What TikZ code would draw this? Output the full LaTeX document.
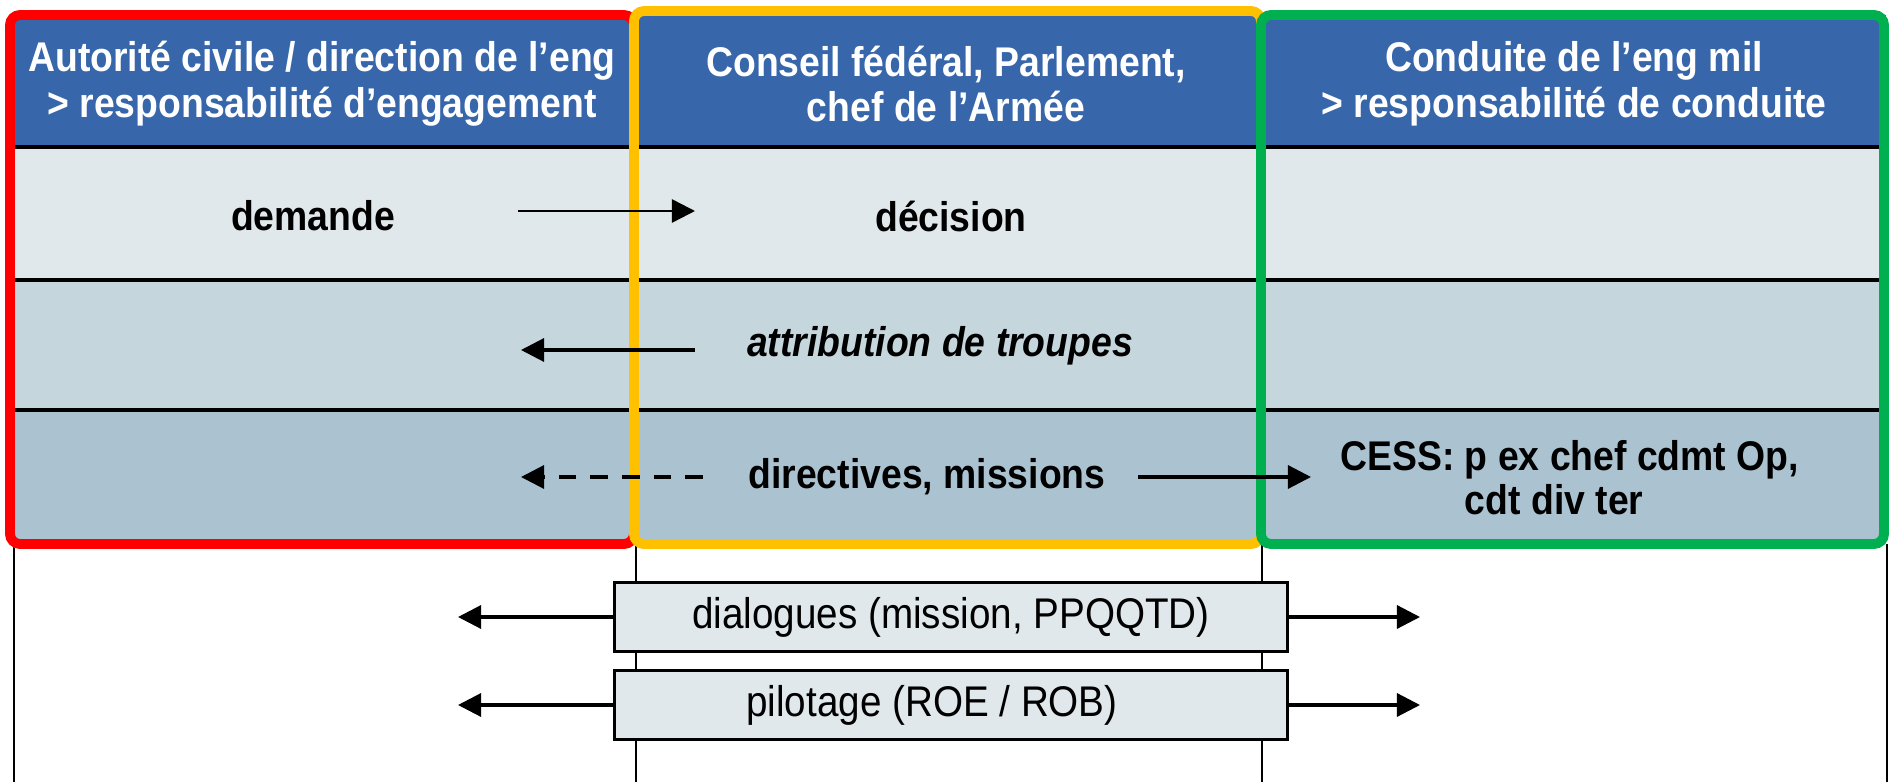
\documentclass[tikz,border=0pt]{standalone}
\usepackage{fontspec}
\setmainfont{Liberation Sans}[FakeStretch=0.9]
\usetikzlibrary{positioning}
\usetikzlibrary{arrows.meta}

\definecolor{hdrblue}{HTML}{3766AA}
\definecolor{rowa}{HTML}{E0E8EB}
\definecolor{rowb}{HTML}{C6D6DD}
\definecolor{rowc}{HTML}{ABC3D1}
\definecolor{frred}{HTML}{FF0000}
\definecolor{fryellow}{HTML}{FFC000}
\definecolor{frgreen}{HTML}{00B050}

\begin{document}
\begin{tikzpicture}[x=0.01cm, y=-0.01cm,
		head/.style={text=white, font=\fontsize{11.8}{13}\selectfont\bfseries, align=center},
		lbl/.style={font=\fontsize{11.8}{12.5}\selectfont\bfseries},
		frame/.style={line width=2.8pt, rounded corners=1mm},
		sep/.style={line width=1pt},
		tab/.style={draw, line width=0.9pt, fill=rowa, minimum width=6.72cm, minimum height=0.69cm, font=\fontsize{12.2}{13}\selectfont},
		>={Triangle[length=2.3mm,width=2.3mm]},
]
\useasboundingbox (0,0) rectangle (1890,782);

% table bands
\fill[hdrblue] (10,15) rectangle (1886,147);
\fill[rowa] (10,147) rectangle (1886,280);
\fill[rowb] (10,280) rectangle (1886,410);
\fill[rowc] (10,410) rectangle (1886,544);
\draw[sep] (10,147) -- (1886,147);
\draw[sep] (10,280) -- (1886,280);
\draw[sep] (10,410) -- (1886,410);
\foreach \x in {14,636,1262,1887}
	\draw[line width=0.7pt] (\x,544) -- (\x,782);

% frames
\draw[frame, frred] (10,15) rectangle (634,544);
\draw[frame, fryellow] (634,11) rectangle (1261,544);
\draw[frame, frgreen] (1261,15) rectangle (1884,544);

\node[head] (h1) at (322,84) {Autorité civile / direction de l’eng\\> responsabilité d’engagement};
\node[head] (h2) at (946,84) {Conseil fédéral, Parlement,\\chef de l’Armée};
\node[head] (h3) at (1574,84) {Conduite de l’eng mil\\> responsabilité de conduite};

\node[lbl] (dem) at (313,216) {demande};
\node[lbl] (dec) at (951,216) {décision};
\node[lbl, font=\fontsize{11.8}{12.5}\selectfont\bfseries\itshape] (attr) at (940,346) {attribution de troupes};
\node[lbl] (dir) at (927,477) {directives, missions};
\node[lbl, anchor=west] (cess) at (1328,484) {\begin{tabular}{@{}l@{ }l@{}}CESS: & p ex chef cdmt Op,\\ & cdt div ter\end{tabular}};

\node[tab] (dlg) at (951,617) {dialogues (mission, PPQQTD)};
\node[tab] (pil) at (951,705) {pilotage (ROE / ROB)\hspace*{3.8mm}};

\coordinate (demA) at (518,211);
\coordinate (demB) at (695,211);
\coordinate (attrA) at (695,350);
\coordinate (attrB) at (521,350);
\coordinate (dirL1) at (703,477);
\coordinate (dirL2) at (521,477);
\coordinate (dirR1) at (1138,477);
\coordinate (dirR2) at (1311,477);
\coordinate (dlgL) at (458,617);
\coordinate (dlgR) at (1420,617);
\coordinate (pilL) at (458,705);
\coordinate (pilR) at (1420,705);

\draw [->, line width=0.7pt] (demA) -- (demB);
\draw [->, line width=0.9pt] (attrA) -- (attrB);
\draw [->, line width=0.9pt, dash pattern=on 5pt off 4pt] (dirL1) -- (dirL2);
\draw [->, line width=0.9pt] (dirR1) -- (dirR2);
\draw [->, line width=0.9pt] (dlg.west) -- (dlgL);
\draw [->, line width=0.9pt] (dlg.east) -- (dlgR);
\draw [->, line width=0.9pt] (pil.west) -- (pilL);
\draw [->, line width=0.9pt] (pil.east) -- (pilR);

\end{tikzpicture}
\end{document}
